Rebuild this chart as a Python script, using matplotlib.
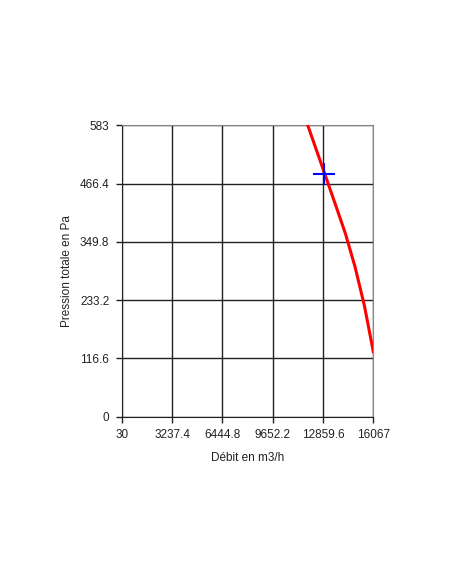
import numpy as np
import matplotlib.pyplot as plt

plt.rcParams['font.family'] = ['Liberation Sans', 'DejaVu Sans']

# courbe du ventilateur
debit = [11886, 12500, 13100, 13700, 14300, 14900, 15500, 16067]
pression = [583, 528, 474, 420, 365, 300, 222, 130]

# point de fonctionnement
pt_debit = [12944]
pt_pression = [485]

xticks = [30, 3237.4, 6444.8, 9652.2, 12859.6, 16067]
yticks = [0, 116.6, 233.2, 349.8, 466.4, 583]

fig = plt.figure(figsize=(4.52, 5.84), dpi=100)
ax = fig.add_axes([0.2693, 0.2865, 0.5566, 0.4991])

ax.plot(debit, pression, color='red', linewidth=2.2, zorder=3)
ax.plot(pt_debit, pt_pression, marker='+', color='blue', markersize=16,
        markeredgewidth=1.5, linestyle='None', zorder=4)

ax.set_xlim(30, 16067)
ax.set_ylim(0, 583)
ax.set_xticks(xticks)
ax.set_xticklabels(['30', '3237.4', '6444.8', '9652.2', '12859.6', '16067'])
ax.set_yticks(yticks)
ax.set_yticklabels(['0', '116.6', '233.2', '349.8', '466.4', '583'])
ax.grid(True, color='#222222', linewidth=1.0)
ax.set_axisbelow(True)

for s in ['top', 'right']:
    ax.spines[s].set_color('#888888')
for s in ['left', 'bottom']:
    ax.spines[s].set_color('#222222')
ax.tick_params(direction='out', length=4, width=1, colors='#222222',
               labelsize=8.5, pad=5)

ax.set_xlabel('Débit en m3/h', fontsize=8.5, color='#222222', labelpad=8)
ax.set_ylabel('Pression totale en Pa', fontsize=8.5, color='#222222', labelpad=5)

fig.savefig('out.png', dpi=100)
